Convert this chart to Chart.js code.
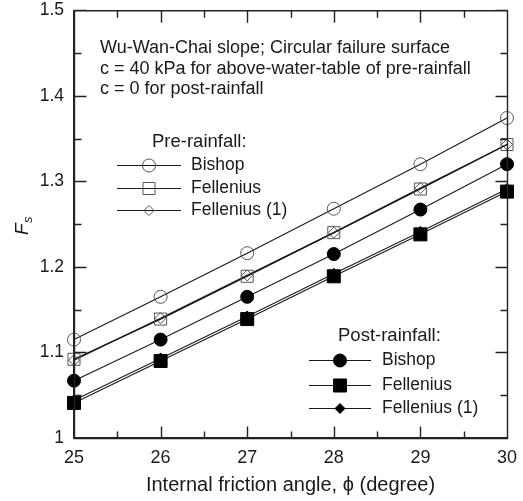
<!DOCTYPE html>
<html>
<head>
<meta charset="utf-8">
<style>
  html, body { margin: 0; padding: 0; background: #fff; }
  #wrap { width: 523px; height: 501px; }
</style>
<script src="https://cdn.jsdelivr.net/npm/chart.js@4/dist/chart.umd.min.js"></script>
</head>
<body>
<div id="wrap"><canvas id="c" width="523" height="501"></canvas></div>
<script>
// Friction angle (degrees)
const phi = [25, 26, 27, 28, 29, 30];

// Factor of safety, pre-rainfall
const preBishop     = [1.115, 1.165, 1.216, 1.268, 1.320, 1.374];
const preFellenius  = [1.092, 1.139, 1.189, 1.240, 1.291, 1.343];
const preFellenius1 = [1.091, 1.140, 1.190, 1.240, 1.292, 1.343];

// Factor of safety, post-rainfall
const postBishop     = [1.067, 1.115, 1.165, 1.215, 1.267, 1.320];
const postFellenius  = [1.041, 1.090, 1.139, 1.189, 1.238, 1.288];
const postFellenius1 = [1.044, 1.093, 1.142, 1.192, 1.241, 1.291];

const yTicks = [1, 1.1, 1.2, 1.3, 1.4, 1.5];
const xTicks = [25, 26, 27, 28, 29, 30];

const noteLines = [
  'Wu-Wan-Chai slope; Circular failure surface',
  'c = 40 kPa for above-water-table of pre-rainfall',
  'c = 0 for post-rainfall'
];
const preTitle = 'Pre-rainfall:';
const postTitle = 'Post-rainfall:';
const xTitle = 'Internal friction angle, \u03d5 (degree)';

const FONT = '"Liberation Sans", Arial, sans-serif';
const INK = '#1a1a1a';
const AXIS = '#222222';

function pts(ys) { return ys.map((y, i) => ({ x: phi[i], y })); }

function series(label, ys, style, filled, radius, lineW) {
  return {
    label,
    data: pts(ys),
    borderColor: INK,
    borderWidth: lineW,
    pointStyle: style,
    pointRadius: radius,
    pointHoverRadius: radius,
    pointBorderWidth: 1,
    pointBorderColor: filled ? '#000' : '#555',
    pointBackgroundColor: filled ? '#000' : 'rgba(255,255,255,0)',
    tension: 0,
    fill: false,
    clip: false
  };
}

const datasets = [
  series('Bishop', preBishop, 'circle', false, 6.5, 1.1),
  series('Fellenius', preFellenius, 'rect', false, 8.5, 1.3),
  series('Fellenius (1)', preFellenius1, 'rectRot', false, 5.5, 1.3),
  series('Bishop', postBishop, 'circle', true, 6.5, 1.1),
  series('Fellenius', postFellenius, 'rect', true, 9.2, 1.1),
  series('Fellenius (1)', postFellenius1, 'rectRot', true, 5.5, 1.1)
];
datasets.forEach((d, i) => { d.group = i < 3 ? 'pre' : 'post'; });

function drawMarker(ctx, ds, x, y, r) {
  ctx.save();
  ctx.fillStyle = ds.pointBackgroundColor;
  ctx.strokeStyle = ds.pointBorderColor;
  ctx.lineWidth = ds.pointBorderWidth;
  const opts = { pointStyle: ds.pointStyle, radius: r, rotation: 0, borderWidth: ds.pointBorderWidth };
  if (Chart.helpers && Chart.helpers.drawPoint) {
    Chart.helpers.drawPoint(ctx, opts, x, y);
  } else {
    ctx.beginPath();
    if (ds.pointStyle === 'circle') ctx.arc(x, y, r, 0, Math.PI * 2);
    else if (ds.pointStyle === 'rect') { const s = r * Math.SQRT1_2; ctx.rect(x - s, y - s, 2 * s, 2 * s); }
    else { ctx.moveTo(x, y - r); ctx.lineTo(x + r, y); ctx.lineTo(x, y + r); ctx.lineTo(x - r, y); ctx.closePath(); }
    ctx.fill(); ctx.stroke();
  }
  ctx.restore();
}

// Notes, legend blocks, the F_s label, then the plot frame with inward ticks
const decor = {
  id: 'decor',
  afterDraw(chart) {
    const ctx = chart.ctx;
    ctx.save();
    ctx.fillStyle = INK;
    ctx.font = '18px ' + FONT;
    ctx.textBaseline = 'middle';
    ctx.textAlign = 'left';
    const noteY = [48, 69, 89];
    noteLines.forEach((t, i) => ctx.fillText(t, 100, noteY[i]));

    const blocks = [
      { group: 'pre', title: preTitle, tx: 152, ty: 142, x0: 117, x1: 181, mx: 149, lx: 191, rows: [165, 188, 210] },
      { group: 'post', title: postTitle, tx: 338, ty: 336, x0: 309, x1: 371, mx: 340, lx: 382, rows: [360, 385, 408] }
    ];
    const legendR = { circle: 6.5, rect: 8.5, rectRot: 5 };
    blocks.forEach(b => {
      ctx.font = '18.5px ' + FONT;
      ctx.fillStyle = INK;
      ctx.fillText(b.title, b.tx, b.ty);
      const items = chart.data.datasets.filter(d => d.group === b.group);
      items.forEach((d, i) => {
        const y = b.rows[i];
        ctx.strokeStyle = INK;
        ctx.lineWidth = 1.2;
        ctx.beginPath();
        ctx.moveTo(b.x0, y + 0.5); ctx.lineTo(b.x1, y + 0.5);
        ctx.stroke();
        let r = legendR[d.pointStyle];
        if (d.group === 'post' && d.pointStyle === 'rect') r = 9.2;
        drawMarker(ctx, d, b.mx, y + 0.5, r);
        ctx.font = '17.5px ' + FONT;
        ctx.fillStyle = INK;
        ctx.fillText(d.label, b.lx, y);
      });
    });
    ctx.restore();

    ctx.save();
    ctx.translate(28, 226);
    ctx.rotate(-Math.PI / 2);
    ctx.fillStyle = INK;
    ctx.textBaseline = 'alphabetic';
    ctx.font = 'italic 19px ' + FONT;
    const wF = ctx.measureText('F').width;
    ctx.font = 'italic 13px ' + FONT;
    const wS = ctx.measureText('s').width;
    const start = -(wF + wS) / 2;
    ctx.font = 'italic 19px ' + FONT;
    ctx.fillText('F', start, 0);
    ctx.font = 'italic 13px ' + FONT;
    ctx.fillText('s', start + wF + 0.5, 4);
    ctx.restore();

    // frame with major (whole / 0.1) and minor (half / 0.05) inward ticks
    const xs = chart.scales.x, ys = chart.scales.y;
    const L = xs.left + 0.5, R = xs.right + 0.5, T = ys.top + 0.5, B = ys.bottom + 0.5;
    ctx.save();
    ctx.strokeStyle = AXIS;
    ctx.lineWidth = 1.4;
    ctx.beginPath();
    ctx.moveTo(L, T); ctx.lineTo(R, T); ctx.lineTo(R, B); ctx.lineTo(L, B); ctx.closePath();
    for (let k = 0; k <= 10; k++) {
      const px = Math.round(xs.getPixelForValue(25 + k * 0.5)) + 0.5;
      const len = k % 2 === 0 ? 12 : 7;
      ctx.moveTo(px, B); ctx.lineTo(px, B - len);
      ctx.moveTo(px, T); ctx.lineTo(px, T + len);
    }
    for (let k = 0; k <= 10; k++) {
      const py = Math.round(ys.getPixelForValue(1 + k * 0.05)) + 0.5;
      const len = k % 2 === 0 ? 12 : 7;
      ctx.moveTo(L, py); ctx.lineTo(L + len, py);
      ctx.moveTo(R, py); ctx.lineTo(R - len, py);
    }
    ctx.stroke();
    ctx.restore();
  }
};

new Chart(document.getElementById('c'), {
  type: 'line',
  data: { datasets },
  options: {
    responsive: false,
    animation: false,
    events: [],
    layout: { padding: 0 },
    plugins: { legend: { display: false }, tooltip: { enabled: false } },
    scales: {
      x: {
        type: 'linear',
        min: 25, max: 30,
        afterBuildTicks(s) { s.ticks = xTicks.map(v => ({ value: v })); },
        afterFit(s) { s.height = 63; s.paddingLeft = 0; s.paddingRight = 16; },
        grid: { display: false, drawTicks: false },
        border: { display: true, color: AXIS, width: 1.4 },
        ticks: { color: INK, font: { family: FONT, size: 18 }, padding: 9, maxRotation: 0,
                 callback: v => String(v) },
        title: { display: true, text: xTitle, color: INK, font: { family: FONT, size: 20 }, padding: { top: 6 } }
      },
      y: {
        type: 'linear',
        min: 1, max: 1.5,
        afterBuildTicks(s) { s.ticks = yTicks.map(v => ({ value: v })); },
        afterFit(s) { s.width = 74; s.paddingTop = 10; s.paddingBottom = 0; },
        grid: { display: false, drawTicks: false },
        border: { display: true, color: AXIS, width: 1.4 },
        ticks: { color: INK, font: { family: FONT, size: 17.5 }, padding: 10,
                 callback: v => String(Math.round(v * 10) / 10) }
      }
    }
  },
  plugins: [decor]
});
</script>
</body>
</html>
